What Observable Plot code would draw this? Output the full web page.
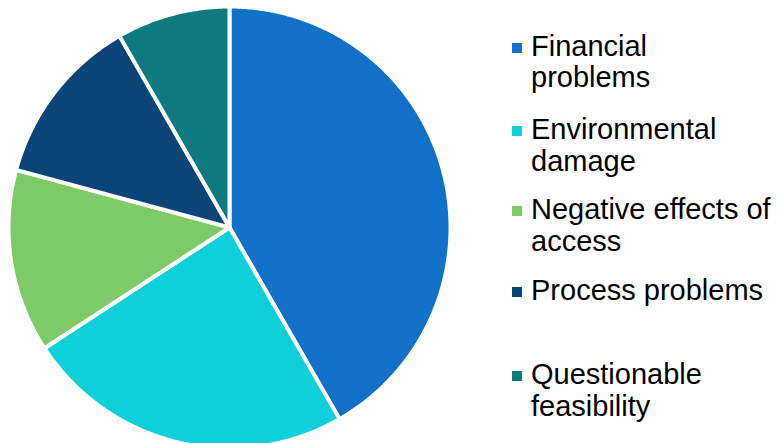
<!DOCTYPE html>
<html>
<head>
<meta charset="utf-8">
<script src="https://cdn.jsdelivr.net/npm/d3@7"></script>
<script src="https://cdn.jsdelivr.net/npm/@observablehq/plot@0.6"></script>
<style>
  html, body { margin: 0; padding: 0; background: #fff; }
  #wrap { position: relative; width: 778px; height: 443px; overflow: hidden; font-family: "Liberation Sans", Arial, sans-serif; }
  .item { position: absolute; left: 531px; font-size: 29px; line-height: 31.7px; color: #000; white-space: nowrap; }
  .sw { position: absolute; left: 512px; width: 10px; height: 10px; }
</style>
</head>
<body>
<div id="wrap"></div>
<script>
const categories = ["Financial problems", "Environmental damage", "Negative effects of access", "Process problems", "Questionable feasibility"];
const legendLines = [["Financial", "problems"], ["Environmental", "damage"], ["Negative effects of", "access"], ["Process problems"], ["Questionable", "feasibility"]];
const values = [41.7, 24.1, 13.4, 12.5, 8.3];
const colors = ["#1170C8", "#0DD0DA", "#7DCB67", "#0B4478", "#0D7A80"];

const pie = d3.pie().sort(null).startAngle(0).endAngle(2 * Math.PI)(values);
const slices = pie.map((p, i) => {
  const pts = [{x: 0, y: 0}];
  const n = Math.max(2, Math.ceil((p.endAngle - p.startAngle) / 0.01));
  for (let k = 0; k <= n; k++) {
    const a = p.startAngle + (p.endAngle - p.startAngle) * k / n;
    pts.push({x: Math.sin(a), y: Math.cos(a)});
  }
  pts.push({x: 0, y: 0});
  return {name: categories[i], color: colors[i], points: pts};
});

const chart = Plot.plot({
  width: 778,
  height: 443,
  margin: 0,
  x: {domain: [-1, 1], range: [8, 450], axis: null},
  y: {domain: [-1, 1], range: [448, 6], axis: null},
  marks: slices.map(s => Plot.line(s.points, {
    x: "x", y: "y", fill: s.color, stroke: "white", strokeWidth: 4, strokeLinejoin: "round"
  }))
});
const wrap = document.getElementById("wrap");
wrap.appendChild(chart);

const baselines = [56.5, 140, 220, 301, 385];
legendLines.forEach((lines, i) => {
  const d = document.createElement("div");
  d.className = "item";
  d.style.top = (baselines[i] - 26) + "px";
  d.innerHTML = lines.join("<br>");
  wrap.appendChild(d);
  const s = document.createElement("div");
  s.className = "sw";
  s.style.background = colors[i];
  s.style.top = (baselines[i] - 14) + "px";
  wrap.appendChild(s);
});
</script>
</body>
</html>
